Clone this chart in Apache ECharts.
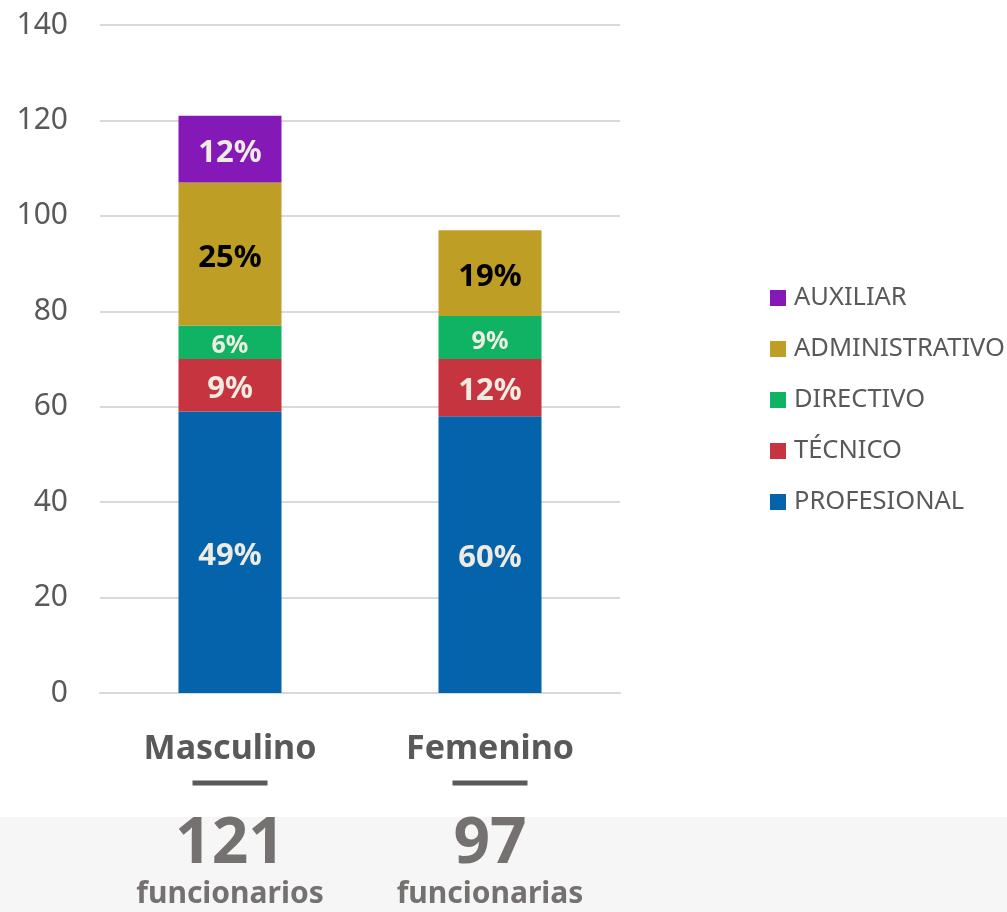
<!DOCTYPE html>
<html><head><meta charset="utf-8">
<script src="https://cdn.jsdelivr.net/npm/echarts@6/dist/echarts.min.js"></script>
<style>html,body{margin:0;padding:0;background:#fff}#c{width:1007px;height:912px}</style>
</head><body><div id="c"></div>
<script>
const categories = ['Masculino', 'Femenino'];
const totals = [121, 97];
const totalWords = ['funcionarios', 'funcionarias'];
const profesional = [59, 58];
const tecnico = [11, 12];
const directivo = [7, 9];
const administrativo = [30, 18];
const auxiliar = [14, 0];
const yTicks = [0, 20, 40, 60, 80, 100, 120, 140];

const FONT = '"Noto Sans", "Open Sans", sans-serif';
const chart = echarts.init(document.getElementById('c'), null, {renderer: 'canvas'});

function pctLabel(color, size) {
  return {
    show: true, position: 'inside', offset: [0, 4], color: color, fontSize: size, fontWeight: 'bold', fontFamily: FONT,
    formatter: p => p.value ? Math.round(p.value / totals[p.dataIndex] * 100) + '%' : ''
  };
}
function mk(name, data, color, lblColor, size) {
  return {name, type: 'bar', stack: 'g', data, barWidth: 103, itemStyle: {color},
    label: pctLabel(lblColor, size), emphasis: {disabled: true}};
}

chart.setOption({
  animation: false,
  backgroundColor: '#fff',
  graphic: [{type: 'rect', z: -10, shape: {x: 0, y: 817, width: 1007, height: 95}, style: {fill: '#f6f6f6'}}],
  grid: {left: 100, right: 387, top: 25, bottom: 219},
  legend: {
    orient: 'vertical', left: 765, top: 280, itemWidth: 16, itemHeight: 16, itemGap: 25,
    icon: 'rect', data: ['AUXILIAR', 'ADMINISTRATIVO', 'DIRECTIVO', 'TÉCNICO', 'PROFESIONAL'],
    textStyle: {color: '#595959', fontSize: 25.5, fontFamily: FONT, padding: [0, 0, 0, 3]},
    selectedMode: false
  },
  xAxis: {
    type: 'category', data: categories,
    axisLine: {lineStyle: {color: '#d9d9d9', width: 2}}, axisTick: {show: false},
    axisLabel: {
      margin: 36, interval: 0,
      formatter: (v, i) => '{n|' + v + '}\n{l|}\n{t|' + totals[i] + '}\n{w|' + totalWords[i] + '}',
      rich: {
        n: {fontSize: 34, fontWeight: 'bold', color: '#595959', fontFamily: FONT, lineHeight: 40},
        l: {width: 75, height: 5, backgroundColor: '#595959', lineHeight: 28},
        t: {fontSize: 64, fontWeight: 'bold', color: '#767171', fontFamily: FONT, lineHeight: 95},
        w: {fontSize: 30, fontWeight: 'bold', color: '#767171', fontFamily: FONT, lineHeight: 4}
      }
    }
  },
  yAxis: {
    type: 'value', min: yTicks[0], max: yTicks[yTicks.length - 1], interval: 20,
    axisLine: {show: false}, axisTick: {show: false},
    splitLine: {lineStyle: {color: '#d9d9d9', width: 2}},
    axisLabel: {color: '#595959', fontSize: 30, fontFamily: FONT, margin: 32}
  },
  series: [
    mk('PROFESIONAL', profesional, '#0563ac', '#eeece1', 31),
    mk('TÉCNICO', tecnico, '#c5343f', '#eeece1', 31),
    mk('DIRECTIVO', directivo, '#10b264', '#eeece1', 25),
    mk('ADMINISTRATIVO', administrativo, '#bf9e26', '#000000', 31),
    mk('AUXILIAR', auxiliar, '#8519b7', '#eeece1', 31)
  ]
});
</script></body></html>
